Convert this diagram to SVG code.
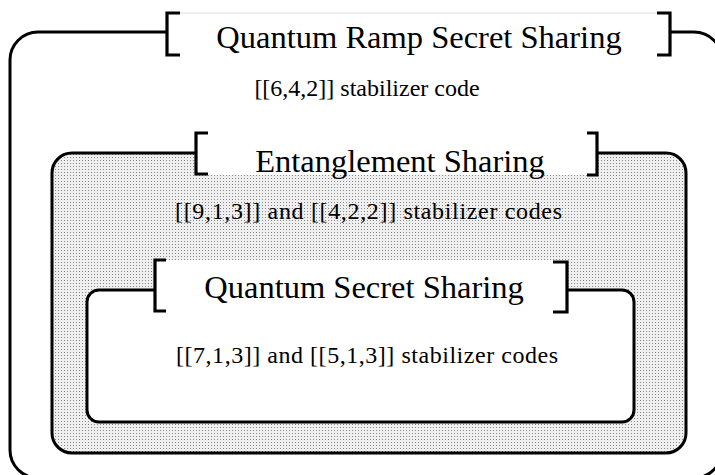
<svg xmlns="http://www.w3.org/2000/svg" width="715" height="475" viewBox="0 0 715 475">
  <defs>
    <!-- fine stipple used for the middle container -->
    <pattern id="stipple" width="3" height="3" patternUnits="userSpaceOnUse">
      <rect width="3" height="3" fill="#efefef"/>
      <rect x="1" y="1" width="1" height="1" fill="#8a8a8a"/>
    </pattern>
  </defs>
  <style>
    .frame { stroke: #000; stroke-width: 3; }
    .bracket { fill: none; stroke: #000; stroke-width: 3.2; stroke-linejoin: miter; }
    .plate { fill: #fff; }
    text { font-family: 'Liberation Serif', 'DejaVu Serif', serif; fill: #000; text-anchor: middle; }
    .title { font-size: 32.5px; }
    .code { font-size: 24px; }
  </style>
  <rect width="715" height="475" fill="#fff"/>

  <g id="ramp">
    <rect class="frame" x="10" y="32" width="712" height="446" rx="28" fill="#fff"/>
    <rect class="plate" x="168" y="13" width="501" height="42"/>
    <line x1="180" y1="13" x2="657" y2="13" stroke="#dcdcdc" stroke-width="1"/>
    <path class="bracket" d="M180,13 H167 V55 H180"/>
    <path class="bracket" d="M657,13 H670 V55 H657"/>
    <text class="title" x="419" y="48">Quantum Ramp Secret Sharing</text>
    <text class="code" x="367" y="96">[[6,4,2]] stabilizer code</text>
  </g>

  <g id="entanglement">
    <rect class="frame" x="52" y="153" width="634" height="300" rx="20" fill="url(#stipple)"/>
    <rect class="plate" x="197" y="133" width="399" height="42"/>
    <path class="bracket" d="M208,133 H196 V174 H208"/>
    <path class="bracket" d="M587,133 H597 V175 H587"/>
    <text class="title" x="400" y="172">Entanglement Sharing</text>
    <text class="code" x="368.5" y="219" textLength="387" lengthAdjust="spacing">[[9,1,3]] and [[4,2,2]] stabilizer codes</text>
  </g>

  <g id="secret">
    <rect class="frame" x="87" y="290" width="547" height="132" rx="12" fill="#fff"/>
    <rect class="plate" x="156" y="260" width="410" height="51"/>
    <path class="bracket" d="M166,260 H155 V311 H166"/>
    <path class="bracket" d="M553,262 H567 V312 H553"/>
    <text class="title" x="364" y="298">Quantum Secret Sharing</text>
    <text class="code" x="367" y="363" textLength="382" lengthAdjust="spacing">[[7,1,3]] and [[5,1,3]] stabilizer codes</text>
  </g>
</svg>
